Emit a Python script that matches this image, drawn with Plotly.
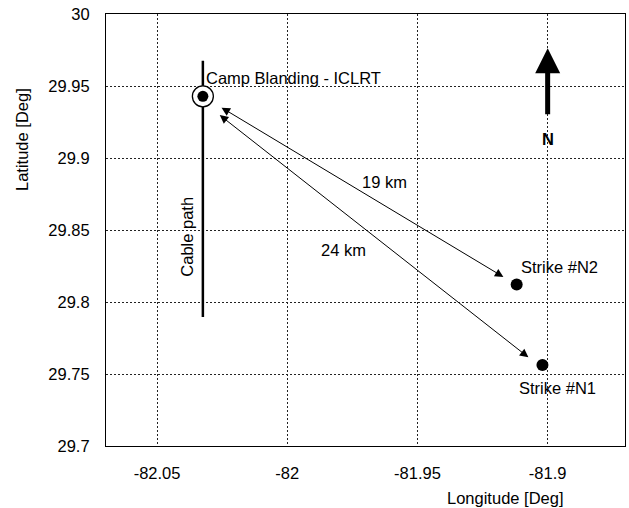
import plotly.graph_objects as go

# Site and strike locations (longitude, latitude in degrees)
site_name = "Camp Blanding - ICLRT"
site_lon, site_lat = -82.0324, 29.9428

strike_names = ["Strike #N2", "Strike #N1"]
strike_lon = [-81.9119, -81.9020]
strike_lat = [29.8121, 29.7563]

# Distance arrows: near-site end and near-strike end
arrow_labels = ["19 km", "24 km"]
arrow_start_lon = [-82.0258, -82.0265]
arrow_start_lat = [29.9356, 29.9306]
arrow_end_lon = [-81.9170, -81.9074]
arrow_end_lat = [29.8174, 29.7616]
arrow_label_lon = [-81.9625, -81.9785]
arrow_label_lat = [29.8830, 29.8360]

# Cable path (north-south line through the site)
cable_lon = [-82.0324, -82.0324]
cable_lat = [29.9676, 29.7896]

# North arrow
north_lon = -81.9
north_lat = [29.9294, 29.9762]

x_ticks = [-82.05, -82.0, -81.95, -81.9]
x_tick_text = ["-82.05", "-82", "-81.95", "-81.9"]
y_ticks = [29.7, 29.75, 29.8, 29.85, 29.9, 29.95, 30.0]
y_tick_text = ["29.7", "29.75", "29.8", "29.85", "29.9", "29.95", "30"]

FONT = "Liberation Sans, Arial, Helvetica, sans-serif"
FS = 16.5

fig = go.Figure()

fig.add_trace(go.Scatter(x=cable_lon, y=cable_lat, mode="lines",
                         line=dict(color="black", width=2.5), hoverinfo="skip"))
fig.add_trace(go.Scatter(x=[site_lon], y=[site_lat], mode="markers",
                         marker=dict(size=21, color="white", line=dict(color="black", width=1.3)),
                         hoverinfo="skip"))
fig.add_trace(go.Scatter(x=[site_lon], y=[site_lat], mode="markers",
                         marker=dict(size=11, color="black"), hoverinfo="skip"))
fig.add_trace(go.Scatter(x=strike_lon, y=strike_lat, mode="markers",
                         marker=dict(size=12, color="black"), hoverinfo="skip"))

annotations = []
for i in range(len(arrow_labels)):
    annotations.append(dict(
        x=arrow_end_lon[i], y=arrow_end_lat[i], ax=arrow_start_lon[i], ay=arrow_start_lat[i],
        xref="x", yref="y", axref="x", ayref="y", text="", showarrow=True,
        arrowhead=2, startarrowhead=2, arrowside="end+start", arrowsize=1.7, startarrowsize=1.7,
        arrowwidth=1, arrowcolor="black", standoff=0, startstandoff=0))
    annotations.append(dict(x=arrow_label_lon[i], y=arrow_label_lat[i], xref="x", yref="y",
                            text=arrow_labels[i], showarrow=False,
                            font=dict(size=FS, color="black", family=FONT)))

annotations.append(dict(
    x=north_lon, y=north_lat[1], ax=north_lon, ay=north_lat[0],
    xref="x", yref="y", axref="x", ayref="y", text="", showarrow=True,
    arrowhead=2, arrowsize=1.0, arrowwidth=5, arrowcolor="black", standoff=0))
annotations.append(dict(x=north_lon, y=29.9134, xref="x", yref="y", text="<b>N</b>",
                        showarrow=False, font=dict(size=FS, color="black", family=FONT)))

annotations.append(dict(x=-82.0318, y=29.9558, xref="x", yref="y", text=site_name,
                        xanchor="left", showarrow=False,
                        font=dict(size=FS, color="black", family=FONT)))
annotations.append(dict(x=-81.9110, y=29.8240, xref="x", yref="y", text=strike_names[0],
                        xanchor="left", showarrow=False,
                        font=dict(size=FS, color="black", family=FONT)))
annotations.append(dict(x=-81.9118, y=29.7405, xref="x", yref="y", text=strike_names[1],
                        xanchor="left", showarrow=False,
                        font=dict(size=FS, color="black", family=FONT)))
annotations.append(dict(x=-82.0383, y=29.845, xref="x", yref="y", text="Cable path",
                        textangle=-90, showarrow=False,
                        font=dict(size=FS, color="black", family=FONT)))

# Axis titles (placed by pixel position, converted to paper coordinates below)
W, H = 629, 508
ML, MR, MT, MB = 106, 4, 14, 62
pw, ph = W - ML - MR, H - MT - MB
axis_titles = [("Latitude [Deg]", 22, 140, -90), ("Longitude [Deg]", 505, 498, 0)]
for text, px, py, ang in axis_titles:
    annotations.append(dict(x=(px - ML) / pw, y=(H - MB - py) / ph,
                            xref="paper", yref="paper", text=text, textangle=ang,
                            xanchor="center", yanchor="middle", showarrow=False,
                            font=dict(size=FS, color="black", family=FONT)))

grid_style = dict(showgrid=True, gridcolor="#222", griddash="2px,2px", gridwidth=1,
                  zeroline=False, showline=True, linecolor="black", linewidth=1.2,
                  mirror=True, ticks="", ticklabelstandoff=12, tickfont=dict(size=FS))

fig.update_layout(
    width=W, height=H,
    margin=dict(l=ML, r=MR, t=MT, b=MB),
    paper_bgcolor="white", plot_bgcolor="white",
    showlegend=False,
    font=dict(family=FONT, size=FS, color="black"),
    annotations=annotations,
    xaxis=dict(range=[-82.0696, -81.8703], tickvals=x_ticks, ticktext=x_tick_text, **grid_style),
    yaxis=dict(range=[29.7, 30.0], tickvals=y_ticks, ticktext=y_tick_text, **grid_style),
)

fig.write_html("out.html")
